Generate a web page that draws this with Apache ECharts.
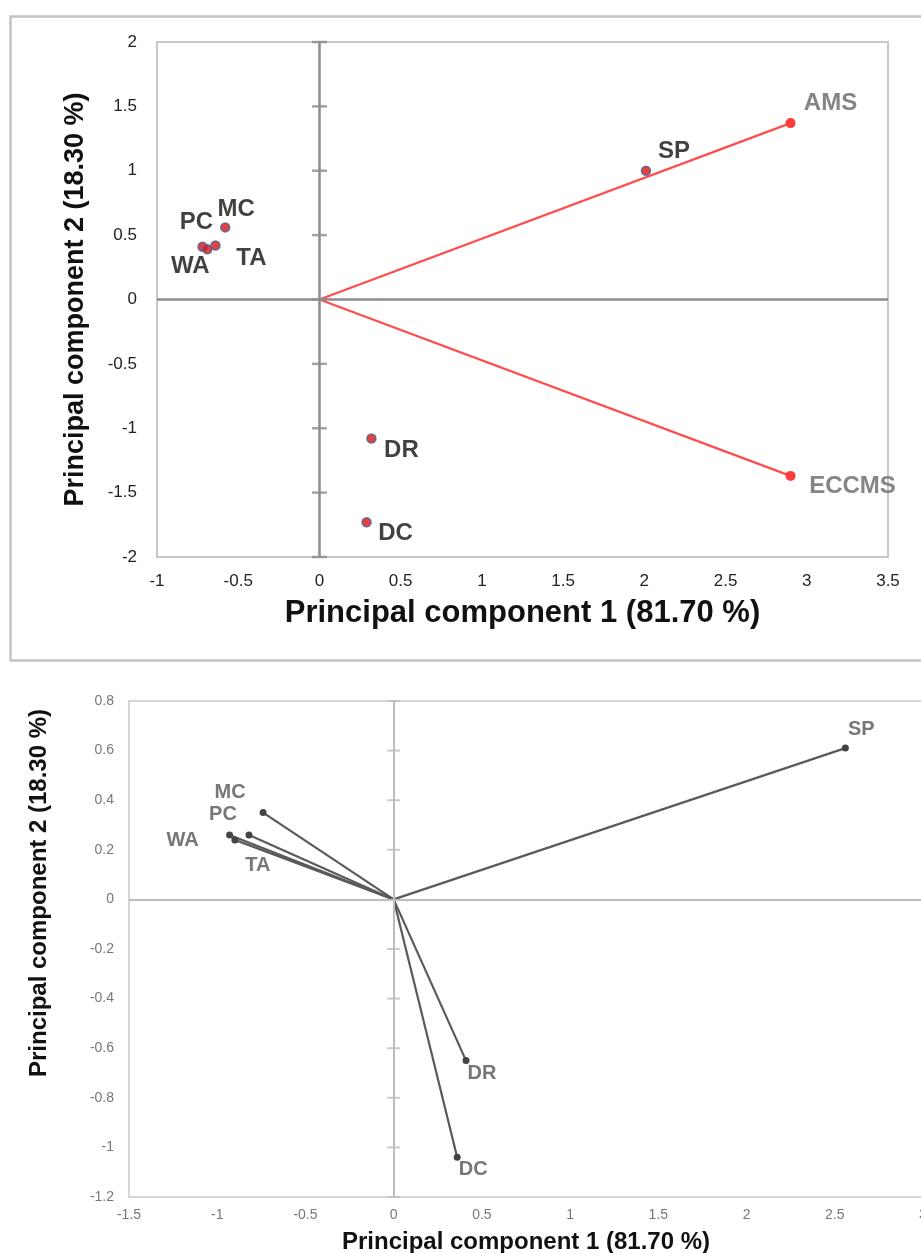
<!DOCTYPE html>
<html>
<head>
<meta charset="utf-8">
<script src="https://cdn.jsdelivr.net/npm/echarts@6/dist/echarts.min.js"></script>
<style>
  html, body { margin: 0; padding: 0; background: #fff; }
  #chart { width: 921px; height: 1253px; }
</style>
</head>
<body>
<div id="chart"></div>
<script>
// top biplot: sample scores
const topNames = ["MC", "PC", "WA", "TA", "SP", "DR", "DC"];
const topPc1 = [-0.58, -0.72, -0.69, -0.64, 2.01, 0.32, 0.29];
const topPc2 = [0.56, 0.41, 0.39, 0.42, 1.0, -1.08, -1.73];
// top biplot: variable vectors
const topVarNames = ["AMS", "ECCMS"];
const topVarPc1 = [2.9, 2.9];
const topVarPc2 = [1.37, -1.37];
const topXTicks = [-1, -0.5, 0, 0.5, 1, 1.5, 2, 2.5, 3, 3.5];
const topYTicks = [-2, -1.5, -1, -0.5, 0, 0.5, 1, 1.5, 2];

// bottom plot: loading vectors
const botNames = ["MC", "PC", "WA", "TA", "SP", "DR", "DC"];
const botPc1 = [-0.74, -0.82, -0.93, -0.9, 2.56, 0.41, 0.36];
const botPc2 = [0.35, 0.26, 0.26, 0.24, 0.61, -0.65, -1.04];
const botXTicks = [-1.5, -1, -0.5, 0, 0.5, 1, 1.5, 2, 2.5, 3];
const botYTicks = [-1.2, -1, -0.8, -0.6, -0.4, -0.2, 0, 0.2, 0.4, 0.6, 0.8];

const xTitle = "Principal component 1 (81.70 %)";
const yTitle = "Principal component 2 (18.30 %)";

// label nudges (px) so the text sits where the original put it
const topLabelOffsets = [[11, -18], [-6, -24], [-17, 17], [36, 13], [28, -19], [30, 12], [29, 11]];
const topVarLabelOffsets = [[40, -20], [62, 10]];
const botLabelOffsets = [[-33, -20], [-26, -20], [-47, 6], [23, 26], [16, -19], [16, 13], [16, 12]];

const FONT = "'Liberation Sans', Arial, sans-serif";

const chart = echarts.init(document.getElementById("chart"), null, { renderer: "canvas" });

const fmt = (v) => String(Number(v.toFixed(2)));

function valueAxis(gridIndex, ticks, labelStyle, name, nameStyle, nameGap, isY) {
  return {
    type: "value",
    gridIndex: gridIndex,
    min: ticks[0],
    max: ticks[ticks.length - 1],
    interval: Number((ticks[1] - ticks[0]).toFixed(2)),
    name: name,
    nameLocation: "middle",
    nameGap: nameGap,
    nameRotate: isY ? 90 : 0,
    nameTextStyle: nameStyle,
    axisLine: { show: false },
    axisTick: { show: false },
    splitLine: { show: false },
    axisLabel: Object.assign({ formatter: fmt }, labelStyle),
  };
}

// zero lines + little cross ticks on the vertical zero line
function zeroAxes(xi, yi, ticks, color, width, tickLen) {
  return {
    type: "scatter",
    xAxisIndex: xi,
    yAxisIndex: yi,
    z: 1,
    silent: true,
    symbol: "rect",
    symbolSize: [tickLen, width],
    itemStyle: { color: color },
    data: ticks.map((t) => [0, t]),
    markLine: {
      silent: true,
      symbol: ["none", "none"],
      label: { show: false },
      lineStyle: { color: color, width: width, type: "solid" },
      data: [{ xAxis: 0 }, { yAxis: 0 }],
    },
  };
}

function vectorSeries(xi, yi, name, x, y, off, lineColor, dotColor, dotSize, lblStyle) {
  return {
    type: "line",
    name: name,
    xAxisIndex: xi,
    yAxisIndex: yi,
    z: 3,
    silent: true,
    symbol: "circle",
    symbolSize: (v, p) => (p.dataIndex === 0 ? 0 : dotSize),
    showAllSymbol: true,
    lineStyle: { color: lineColor, width: 2.2 },
    itemStyle: { color: dotColor },
    data: [
      { value: [0, 0], label: { show: false } },
      {
        value: [x, y],
        name: name,
        label: Object.assign({ show: true, position: "inside", offset: off, formatter: "{b}" }, lblStyle),
      },
    ],
  };
}

const topLabelStyle = { color: "#111", fontSize: 24, fontWeight: "bold", fontFamily: FONT };
const topVarLabelStyle = { color: "#858585", fontSize: 24, fontWeight: "bold", fontFamily: FONT };
const botLabelStyle = { color: "#777", fontSize: 20, fontWeight: "bold", fontFamily: FONT };

const series = [
  zeroAxes(0, 0, topYTicks, "#8c8c8c", 2.5, 15),
  zeroAxes(1, 1, botYTicks, "#bdbdbd", 2, 13),
];

topVarNames.forEach((n, i) => {
  series.push(vectorSeries(0, 0, n, topVarPc1[i], topVarPc2[i], topVarLabelOffsets[i],
    "#ff4d4d", "#ff3b3b", 10, topVarLabelStyle));
});

series.push({
  type: "scatter",
  xAxisIndex: 0,
  yAxisIndex: 0,
  z: 4,
  silent: true,
  symbolSize: 9,
  itemStyle: { color: "#dd1111", borderColor: "#4a6492", borderWidth: 1.5 },
  label: Object.assign({ show: true, position: "inside", formatter: "{b}" }, topLabelStyle),
  data: topNames.map((n, i) => ({
    name: n,
    value: [topPc1[i], topPc2[i]],
    label: { offset: topLabelOffsets[i] },
  })),
});

botNames.forEach((n, i) => {
  series.push(vectorSeries(1, 1, n, botPc1[i], botPc2[i], botLabelOffsets[i],
    "#5a5a5a", "#444", 7, botLabelStyle));
});

const option = {
  animation: false,
  backgroundColor: "#fff",
  textStyle: { fontFamily: FONT },
  graphic: [
    {
      type: "rect",
      left: 8,
      top: 14,
      shape: { width: 940, height: 644 },
      style: { fill: "none", stroke: "#c4c4c4", lineWidth: 2.5 },
      silent: true,
    },
  ],
  grid: [
    { left: 157, top: 42, width: 731, height: 515, show: true, borderColor: "#c8c8c8", borderWidth: 2,
      backgroundColor: "transparent", containLabel: false, outerBoundsMode: "none" },
    { left: 129, top: 701, width: 794, height: 496, show: true, borderColor: "#d6d6d6", borderWidth: 2,
      backgroundColor: "transparent", containLabel: false, outerBoundsMode: "none" },
  ],
  xAxis: [
    valueAxis(0, topXTicks, { color: "#222", fontSize: 17, margin: 16, fontFamily: FONT },
      xTitle, { color: "#111", fontSize: 31, fontWeight: "bold", fontFamily: FONT }, 41, false),
    valueAxis(1, botXTicks, { color: "#777", fontSize: 14, margin: 11, fontFamily: FONT },
      xTitle, { color: "#111", fontSize: 24, fontWeight: "bold", fontFamily: FONT }, 33, false),
  ],
  yAxis: [
    valueAxis(0, topYTicks, { color: "#222", fontSize: 17, margin: 20, fontFamily: FONT },
      yTitle, { color: "#111", fontSize: 27, fontWeight: "bold", fontFamily: FONT }, 68, true),
    valueAxis(1, botYTicks, { color: "#777", fontSize: 14, margin: 15, fontFamily: FONT },
      yTitle, { color: "#111", fontSize: 24, fontWeight: "bold", fontFamily: FONT, padding: [0, 0, 0, 112] }, 78, true),
  ],
  series: series,
};

chart.setOption(option);
</script>
</body>
</html>
